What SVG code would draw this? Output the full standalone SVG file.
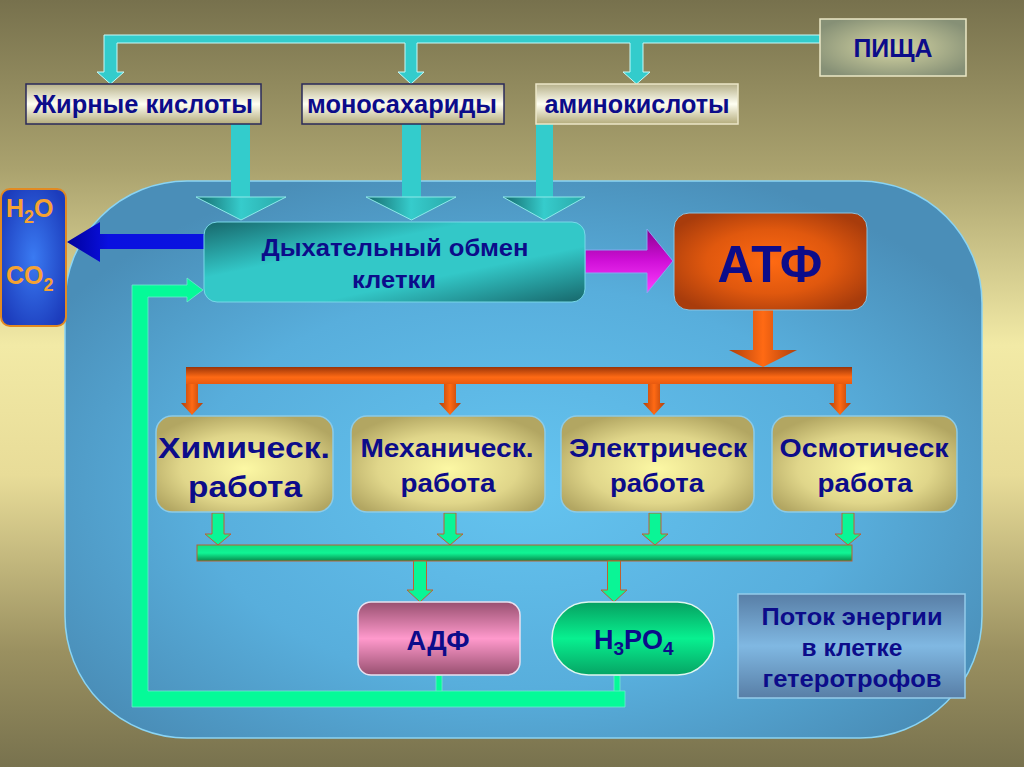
<svg xmlns="http://www.w3.org/2000/svg" width="1024" height="767" viewBox="0 0 1024 767">
<defs>
<linearGradient id="bg" x1="0" y1="0" x2="0" y2="1">
<stop offset="0" stop-color="#77714d"/>
<stop offset="0.22" stop-color="#aaa26e"/>
<stop offset="0.45" stop-color="#f2eaa6"/>
<stop offset="0.62" stop-color="#e8dc98"/>
<stop offset="0.85" stop-color="#9a9060"/>
<stop offset="1" stop-color="#78724e"/>
</linearGradient>
<radialGradient id="cell" cx="0.5" cy="0.55" r="0.6">
<stop offset="0" stop-color="#64c4f0"/>
<stop offset="0.6" stop-color="#58aedc"/>
<stop offset="1" stop-color="#4a8eb8"/>
</radialGradient>
<radialGradient id="food" cx="0.5" cy="0.5" r="0.6">
<stop offset="0" stop-color="#d6d6a4"/>
<stop offset="1" stop-color="#869076"/>
</radialGradient>
<linearGradient id="label" x1="0" y1="0" x2="0" y2="1">
<stop offset="0" stop-color="#b6b08a"/>
<stop offset="0.5" stop-color="#fffff2"/>
<stop offset="1" stop-color="#b4ac7c"/>
</linearGradient>
<linearGradient id="tealHead" x1="0" y1="0" x2="1" y2="0">
<stop offset="0" stop-color="#156a6c"/>
<stop offset="0.5" stop-color="#36cccc"/>
<stop offset="1" stop-color="#2aa8a8"/>
</linearGradient>
<linearGradient id="resp" x1="0" y1="0" x2="1" y2="1">
<stop offset="0" stop-color="#17676b"/>
<stop offset="0.35" stop-color="#33c8c8"/>
<stop offset="0.65" stop-color="#33c8c8"/>
<stop offset="1" stop-color="#17676b"/>
</linearGradient>
<radialGradient id="h2o" cx="0.5" cy="0.5" r="0.6">
<stop offset="0" stop-color="#3a7af2"/>
<stop offset="1" stop-color="#1c3cbc"/>
</radialGradient>
<linearGradient id="blueArr" x1="0" y1="0" x2="1" y2="0">
<stop offset="0" stop-color="#00009c"/>
<stop offset="0.3" stop-color="#0a10e0"/>
<stop offset="1" stop-color="#0a14e0"/>
</linearGradient>
<linearGradient id="mag" x1="0" y1="0" x2="0" y2="1">
<stop offset="0" stop-color="#8a008e"/>
<stop offset="0.5" stop-color="#d010d8"/>
<stop offset="1" stop-color="#ff40ff"/>
</linearGradient>
<radialGradient id="atf" cx="0.5" cy="0.5" r="0.6">
<stop offset="0" stop-color="#ff6a12"/>
<stop offset="0.55" stop-color="#e0580e"/>
<stop offset="1" stop-color="#a83c0c"/>
</radialGradient>
<linearGradient id="orH" x1="0" y1="0" x2="1" y2="0">
<stop offset="0" stop-color="#b0400c"/>
<stop offset="0.5" stop-color="#ff6a14"/>
<stop offset="1" stop-color="#b0400c"/>
</linearGradient>
<linearGradient id="orBar" x1="0" y1="0" x2="0" y2="1">
<stop offset="0" stop-color="#9a3408"/>
<stop offset="0.6" stop-color="#ff6a14"/>
<stop offset="1" stop-color="#e85a10"/>
</linearGradient>
<radialGradient id="work" cx="0.5" cy="0.55" r="0.6">
<stop offset="0" stop-color="#fcf8a4"/>
<stop offset="0.6" stop-color="#e0d68a"/>
<stop offset="1" stop-color="#b2a662"/>
</radialGradient>
<linearGradient id="grBar" x1="0" y1="0" x2="0" y2="1">
<stop offset="0" stop-color="#10e084"/>
<stop offset="0.5" stop-color="#10f494"/>
<stop offset="1" stop-color="#078a4c"/>
</linearGradient>
<linearGradient id="adf" x1="0" y1="0" x2="0" y2="1">
<stop offset="0" stop-color="#985070"/>
<stop offset="0.5" stop-color="#ff99cc"/>
<stop offset="1" stop-color="#985070"/>
</linearGradient>
<linearGradient id="h3po4" x1="0" y1="0" x2="0" y2="1">
<stop offset="0" stop-color="#06a060"/>
<stop offset="0.5" stop-color="#08f090"/>
<stop offset="1" stop-color="#06a464"/>
</linearGradient>
<linearGradient id="flow" x1="0" y1="0" x2="0" y2="1">
<stop offset="0" stop-color="#587ea6"/>
<stop offset="0.5" stop-color="#80b8e2"/>
<stop offset="1" stop-color="#587ea6"/>
</linearGradient>
</defs>
<style>
text{font-family:"Liberation Sans",Arial,sans-serif;font-weight:bold;fill:#0c0c8a;text-anchor:middle}
.lbl{fill:url(#label);stroke-width:1.5}
.work{fill:url(#work);stroke:#8ccbe8;stroke-width:1.5}
.cy{fill:#33cccc}
.or{fill:url(#orH)}
.gr{fill:#0af596;stroke:#c06030;stroke-width:1}
.ret{fill:#05fa98;stroke:#70e8d0;stroke-width:0.8}
.h2{fill:#f6a232;text-anchor:start}
</style>

<rect x="0" y="0" width="1024" height="767" fill="url(#bg)"/>

<g id="cell">
<rect x="65" y="181" width="917" height="557" rx="122" ry="122" fill="url(#cell)" stroke="#8ad4f4" stroke-width="1.5"/>
</g>

<g id="connectors">
<path class="cy" stroke="#c6fafa" stroke-width="1" d="M104,35 H820 V43 H643 V72 H650 L636.5,84 L623,72 H630 V43 H417 V72 H424 L411,84 L398,72 H405 V43 H117 V72 H124 L110.5,84 L97,72 H104 Z"/>
<rect class="cy" x="231" y="124" width="19" height="74"/>
<path fill="url(#tealHead)" stroke="#8eeaea" stroke-width="1" d="M196,197 H286 L241,220 Z"/>
<rect class="cy" x="402" y="124" width="19" height="74"/>
<path fill="url(#tealHead)" stroke="#8eeaea" stroke-width="1" d="M366,197 H456 L411.5,220 Z"/>
<rect class="cy" x="536" y="124" width="17" height="74"/>
<path fill="url(#tealHead)" stroke="#8eeaea" stroke-width="1" d="M503,197 H585 L544,220 Z"/>
<path fill="url(#blueArr)" d="M205,234 H100 V222 L67,242 L100,262 V249 H205 Z"/>
<path fill="url(#mag)" stroke="#86a8f0" stroke-width="1" d="M585,250 H647 V229 L673,261 L647,293 V273 H585 Z"/>
<path class="or" d="M753,310 H773 V350 H797 L763,367 L729,350 H753 Z"/>
<rect x="186" y="367" width="666" height="17" fill="url(#orBar)"/>
<path class="or" d="M186,384 H198 V403 H203 L192,415 L181,403 H186 Z"/>
<path class="or" d="M444,384 H456 V403 H461 L450,415 L439,403 H444 Z"/>
<path class="or" d="M648,384 H660 V403 H665 L654,415 L643,403 H648 Z"/>
<path class="or" d="M834,384 H846 V403 H851 L840,415 L829,403 H834 Z"/>
<path class="gr" d="M212,513 H224 V534 H231 L218,545 L205,534 H212 Z"/>
<path class="gr" d="M444,513 H456 V534 H463 L450,545 L437,534 H444 Z"/>
<path class="gr" d="M649,513 H661 V534 H668 L655,545 L642,534 H649 Z"/>
<path class="gr" d="M842,513 H854 V534 H861 L848,545 L835,534 H842 Z"/>
<rect x="197" y="545" width="655" height="16" fill="url(#grBar)" stroke="#b86030" stroke-width="1"/>
<path class="gr" d="M413.5,561 H426.5 V590 H433 L420,602 L407,590 H413.5 Z"/>
<path class="gr" d="M607.5,561 H620.5 V590 H627 L614,602 L601,590 H607.5 Z"/>
<rect class="ret" x="436" y="675" width="6" height="17"/>
<rect class="ret" x="614" y="675" width="6" height="17"/>
<path class="ret" d="M132,707 V285 H187 V278 L203,290 L187,302 V297 H148 V691 H625 V707 Z"/>
</g>

<g id="food-node">
<rect x="820" y="19" width="146" height="57" fill="url(#food)" stroke="#ebe8c6" stroke-width="1.5"/>
<text x="893" y="57" font-size="25" textLength="79" lengthAdjust="spacingAndGlyphs">ПИЩА</text>
</g>

<g id="fatty-acids">
<rect class="lbl" x="26" y="84" width="235" height="40" stroke="#2a2a5a"/>
<text x="143" y="113" font-size="25" textLength="220" lengthAdjust="spacingAndGlyphs">Жирные кислоты</text>
</g>

<g id="monosaccharides">
<rect class="lbl" x="302" y="84" width="202" height="40" stroke="#2a2a5a"/>
<text x="402" y="113" font-size="25" textLength="190" lengthAdjust="spacingAndGlyphs">моносахариды</text>
</g>

<g id="amino-acids">
<rect class="lbl" x="536" y="84" width="202" height="40" stroke="#ebe6c8"/>
<text x="637" y="113" font-size="25" textLength="185" lengthAdjust="spacingAndGlyphs">аминокислоты</text>
</g>

<g id="h2o-co2">
<rect x="1" y="189" width="65" height="137" rx="9" fill="url(#h2o)" stroke="#e28a22" stroke-width="2"/>
<text x="6" y="217" font-size="25" class="h2">H<tspan font-size="18" dy="6">2</tspan><tspan dy="-6">O</tspan></text>
<text x="6" y="284" font-size="25" class="h2">CO<tspan font-size="18" dy="7">2</tspan></text>
</g>

<g id="respiration">
<rect x="204" y="222" width="381" height="80" rx="13" fill="url(#resp)" stroke="#78d8e8" stroke-width="1"/>
<text x="395" y="256" font-size="23" textLength="267" lengthAdjust="spacingAndGlyphs">Дыхательный обмен</text>
<text x="394" y="288" font-size="23" textLength="84" lengthAdjust="spacingAndGlyphs">клетки</text>
</g>

<g id="atp">
<rect x="674" y="213" width="193" height="97" rx="15" fill="url(#atf)" stroke="#88c4e4" stroke-width="1"/>
<text x="770" y="282" font-size="52" textLength="105" lengthAdjust="spacingAndGlyphs">АТФ</text>
</g>

<g id="chem-work">
<rect class="work" x="156" y="416" width="177" height="96" rx="16"/>
<text x="244" y="458" font-size="30" textLength="172" lengthAdjust="spacingAndGlyphs">Химическ.</text>
<text x="245" y="497" font-size="30" textLength="114" lengthAdjust="spacingAndGlyphs">работа</text>
</g>

<g id="mech-work">
<rect class="work" x="351" y="416" width="194" height="96" rx="16"/>
<text x="447" y="457" font-size="26" textLength="173" lengthAdjust="spacingAndGlyphs">Механическ.</text>
<text x="448" y="492" font-size="26" textLength="95" lengthAdjust="spacingAndGlyphs">работа</text>
</g>

<g id="elec-work">
<rect class="work" x="561" y="416" width="193" height="96" rx="16"/>
<text x="658" y="457" font-size="26" textLength="178" lengthAdjust="spacingAndGlyphs">Электрическ</text>
<text x="657" y="492" font-size="26" textLength="94" lengthAdjust="spacingAndGlyphs">работа</text>
</g>

<g id="osm-work">
<rect class="work" x="772" y="416" width="185" height="96" rx="16"/>
<text x="864" y="457" font-size="26" textLength="169" lengthAdjust="spacingAndGlyphs">Осмотическ</text>
<text x="865" y="492" font-size="26" textLength="95" lengthAdjust="spacingAndGlyphs">работа</text>
</g>

<g id="adp">
<rect x="358" y="602" width="162" height="73" rx="13" fill="url(#adf)" stroke="#e8e0f0" stroke-width="1.5"/>
<text x="438" y="650" font-size="27" textLength="63" lengthAdjust="spacingAndGlyphs">АДФ</text>
</g>

<g id="h3po4">
<rect x="552" y="602" width="162" height="73" rx="36.5" fill="url(#h3po4)" stroke="#e0f6f0" stroke-width="1.5"/>
<text x="594" y="649" font-size="27" style="text-anchor:start">H<tspan font-size="19" dy="6">3</tspan><tspan dy="-6">PO</tspan><tspan font-size="19" dy="6">4</tspan></text>
</g>

<g id="energy-flow">
<rect x="738" y="594" width="227" height="104" fill="url(#flow)" stroke="#94cbea" stroke-width="1.5"/>
<text x="852" y="625" font-size="23" textLength="181" lengthAdjust="spacingAndGlyphs">Поток энергии</text>
<text x="852" y="656" font-size="23" textLength="101" lengthAdjust="spacingAndGlyphs">в клетке</text>
<text x="852" y="687" font-size="23" textLength="179" lengthAdjust="spacingAndGlyphs">гетеротрофов</text>
</g>
</svg>
